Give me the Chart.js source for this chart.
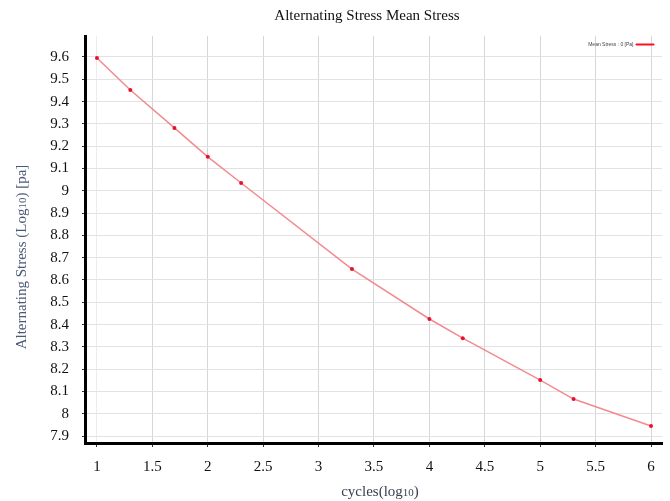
<!DOCTYPE html>
<html><head><meta charset="utf-8">
<script src="https://cdn.jsdelivr.net/npm/chart.js@4.4.0/dist/chart.umd.min.js"></script>
<style>html,body{margin:0;padding:0;background:#fff;}</style>
</head><body>
<canvas id="c" width="670" height="501" style="display:block;width:670px;height:501px"></canvas>
<script>
const cyclesLog = [1, 1.301, 1.699, 2, 2.301, 3.301, 4, 4.301, 5, 5.301, 6];
const stressLog = [9.595, 9.452, 9.282, 9.152, 9.035, 8.649, 8.425, 8.339, 8.151, 8.066, 7.945];
const xTicks = [1, 1.5, 2, 2.5, 3, 3.5, 4, 4.5, 5, 5.5, 6];
const yTicks = [7.9, 8.0, 8.1, 8.2, 8.3, 8.4, 8.5, 8.6, 8.7, 8.8, 8.9, 9.0, 9.1, 9.2, 9.3, 9.4, 9.5, 9.6];
const seriesLabel = 'Mean Stress : 0 [Pa]';
const chartTitle = 'Alternating Stress Mean Stress';
const yTitleParts = ['Alternating Stress (Log', '10', ') [pa]'];
const xTitleParts = ['cycles(log', '10', ')'];

const SERIF = '"Liberation Serif", "DejaVu Serif", serif';

function drawParts(ctx, parts, x, y, big, small, color, rotate) {
  ctx.save();
  ctx.fillStyle = color;
  ctx.textBaseline = 'middle';
  ctx.textAlign = 'left';
  const sizes = parts.map((p, i) => (i % 2 === 1 ? small : big));
  let total = 0;
  const widths = parts.map((p, i) => { ctx.font = sizes[i] + 'px ' + SERIF; const w = ctx.measureText(p).width; total += w; return w; });
  ctx.translate(x, y);
  if (rotate) ctx.rotate(-Math.PI / 2);
  let cx = -total / 2;
  parts.forEach((p, i) => {
    ctx.font = sizes[i] + 'px ' + SERIF;
    ctx.fillText(p, cx, i % 2 === 1 ? 1.5 : 0);
    cx += widths[i];
  });
  ctx.restore();
}

const titlesPlugin = {
  id: 'titles',
  afterUpdate(chart) {
    const lg = chart.legend;
    const ca = chart.chartArea;
    if (!lg || !ca) return;
    const w = lg.width, h = lg.height;
    lg.left = ca.right - w - 2;
    lg.right = lg.left + w;
    lg.top = ca.top;
    lg.bottom = lg.top + h;
    lg.adjustHitBoxes();
  },
  afterDraw(chart) {
    const ctx = chart.ctx;
    drawParts(ctx, [chartTitle], 367, 16, 15, 15, '#111', false);
    drawParts(ctx, yTitleParts, 22, 257, 15, 11, '#4b5a74', true);
    drawParts(ctx, xTitleParts, 380, 492, 15, 11, '#3a4150', false);
  }
};

new Chart(document.getElementById('c'), {
  type: 'scatter',
  data: {
    datasets: [{
      label: seriesLabel,
      data: cyclesLog.map((x, i) => ({ x: x, y: stressLog[i] })),
      showLine: true,
      borderColor: 'rgba(242,125,130,0.9)',
      backgroundColor: '#e8102e',
      borderWidth: 1.5,
      pointRadius: 2,
      pointBorderWidth: 0,
      pointHoverRadius: 2,
      tension: 0
    }]
  },
  options: {
    responsive: false,
    animation: false,
    events: [],
    layout: { padding: { top: 36, right: 8, left: 0, bottom: 0 } },
    plugins: {
      title: { display: false },
      tooltip: { enabled: false },
      legend: {
        position: 'chartArea',
        align: 'start',
        rtl: true,
        textDirection: 'ltr',
        labels: {
          font: { family: 'Arial, "Liberation Sans", sans-serif', size: 5 },
          color: '#444',
          boxWidth: 18,
          boxHeight: 1,
          padding: 6,
          generateLabels(chart) {
            const items = Chart.defaults.plugins.legend.labels.generateLabels(chart);
            items.forEach(it => { it.fillStyle = '#ff1020'; it.strokeStyle = '#ff1020'; it.lineWidth = 1; });
            return items;
          }
        }
      }
    },
    scales: {
      x: {
        type: 'linear',
        min: 0.892,
        max: 6.099,
        afterBuildTicks(scale) { scale.ticks = xTicks.map(v => ({ value: v })); },
        afterFit(scale) { scale.height = 58; },
        ticks: {
          font: { family: SERIF, size: 15 },
          color: '#111',
          padding: 11,
          autoSkip: false,
          maxRotation: 0,
          callback: v => String(v)
        },
        grid: {
          color: ctx => (ctx.tick && ctx.tick.value === 1 ? '#ececec' : '#d6d6d6'),
          lineWidth: 1,
          tickLength: 4,
          tickColor: '#333'
        },
        border: { color: '#000', width: 3 }
      },
      y: {
        type: 'linear',
        min: 7.869,
        max: 9.694,
        afterBuildTicks(scale) { scale.ticks = yTicks.map(v => ({ value: v })); },
        afterFit(scale) { scale.width = 85; },
        ticks: {
          font: { family: SERIF, size: 15 },
          color: '#111',
          padding: 13,
          autoSkip: false,
          callback: v => String(+Number(v).toFixed(1))
        },
        grid: {
          color: '#e2e2e2',
          lineWidth: 1,
          tickLength: 3,
          tickColor: '#333'
        },
        border: { color: '#000', width: 3 }
      }
    }
  },
  plugins: [titlesPlugin]
});
</script>
</body></html>
